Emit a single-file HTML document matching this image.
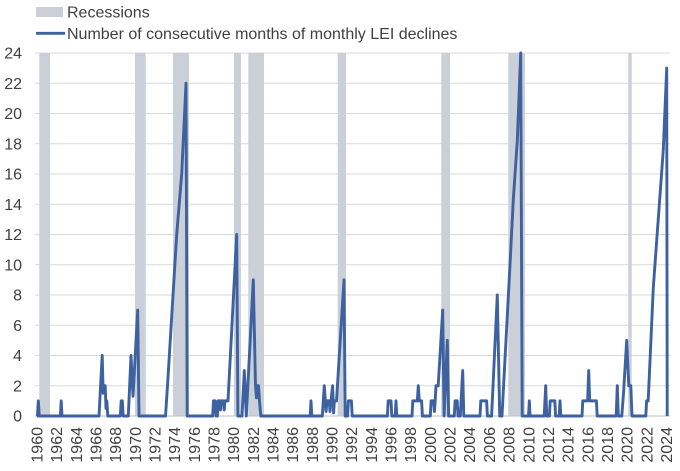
<!DOCTYPE html>
<html><head><meta charset="utf-8"><style>
html,body{margin:0;padding:0;background:#fff;}
svg{display:block;}
text{font-family:"Liberation Sans",sans-serif;font-size:16px;fill:#404040;}
</style></head><body>
<svg width="680" height="471" viewBox="0 0 680 471" xmlns="http://www.w3.org/2000/svg">
<rect x="0" y="0" width="680" height="471" fill="#fff"/>
<!-- legend -->
<rect x="36" y="7" width="27" height="10" fill="#cbd0d8"/>
<text x="67" y="17.5">Recessions</text>
<line x1="36" y1="33.3" x2="65" y2="33.3" stroke="#3e619f" stroke-width="2.8"/>
<text x="67" y="39">Number of consecutive months of monthly LEI declines</text>
<!-- gridlines -->
<g stroke="#d9d9d9" stroke-width="1">
<line x1="35" x2="670" y1="53" y2="53"/>
<line x1="35" x2="670" y1="83.25" y2="83.25"/>
<line x1="35" x2="670" y1="113.5" y2="113.5"/>
<line x1="35" x2="670" y1="143.75" y2="143.75"/>
<line x1="35" x2="670" y1="174" y2="174"/>
<line x1="35" x2="670" y1="204.25" y2="204.25"/>
<line x1="35" x2="670" y1="234.5" y2="234.5"/>
<line x1="35" x2="670" y1="264.75" y2="264.75"/>
<line x1="35" x2="670" y1="295" y2="295"/>
<line x1="35" x2="670" y1="325.25" y2="325.25"/>
<line x1="35" x2="670" y1="355.5" y2="355.5"/>
<line x1="35" x2="670" y1="385.75" y2="385.75"/>
</g>
<!-- recession bars -->
<g fill="#cbd0d8">
<rect x="39.3" y="53" width="10.7" height="363"/>
<rect x="135" y="53" width="10.7" height="363"/>
<rect x="173" y="53" width="16" height="363"/>
<rect x="234" y="53" width="7" height="363"/>
<rect x="248.3" y="53" width="15.7" height="363"/>
<rect x="337.7" y="53" width="8.3" height="363"/>
<rect x="441.3" y="53" width="8.7" height="363"/>
<rect x="508.3" y="53" width="16.7" height="363"/>
<rect x="628.3" y="53" width="3.4" height="363"/>
</g>
<line x1="35" x2="670" y1="416" y2="416" stroke="#bfbfbf" stroke-width="1"/>
<!-- y labels -->
<g text-anchor="end">
<text x="22" y="58.7">24</text>
<text x="22" y="88.95">22</text>
<text x="22" y="119.2">20</text>
<text x="22" y="149.45">18</text>
<text x="22" y="179.7">16</text>
<text x="22" y="209.95">14</text>
<text x="22" y="240.2">12</text>
<text x="22" y="270.45">10</text>
<text x="22" y="300.7">8</text>
<text x="22" y="330.95">6</text>
<text x="22" y="361.2">4</text>
<text x="22" y="391.45">2</text>
<text x="22" y="421.7">0</text>
</g>
<!-- x labels -->
<g text-anchor="end">
<text transform="translate(42.5,427) rotate(-90)">1960</text>
<text transform="translate(62.17,427) rotate(-90)">1962</text>
<text transform="translate(81.84,427) rotate(-90)">1964</text>
<text transform="translate(101.51,427) rotate(-90)">1966</text>
<text transform="translate(121.18,427) rotate(-90)">1968</text>
<text transform="translate(140.85,427) rotate(-90)">1970</text>
<text transform="translate(160.52,427) rotate(-90)">1972</text>
<text transform="translate(180.19,427) rotate(-90)">1974</text>
<text transform="translate(199.86,427) rotate(-90)">1976</text>
<text transform="translate(219.53,427) rotate(-90)">1978</text>
<text transform="translate(239.2,427) rotate(-90)">1980</text>
<text transform="translate(258.87,427) rotate(-90)">1982</text>
<text transform="translate(278.54,427) rotate(-90)">1984</text>
<text transform="translate(298.21,427) rotate(-90)">1986</text>
<text transform="translate(317.88,427) rotate(-90)">1988</text>
<text transform="translate(337.55,427) rotate(-90)">1990</text>
<text transform="translate(357.22,427) rotate(-90)">1992</text>
<text transform="translate(376.89,427) rotate(-90)">1994</text>
<text transform="translate(396.56,427) rotate(-90)">1996</text>
<text transform="translate(416.23,427) rotate(-90)">1998</text>
<text transform="translate(435.9,427) rotate(-90)">2000</text>
<text transform="translate(455.57,427) rotate(-90)">2002</text>
<text transform="translate(475.24,427) rotate(-90)">2004</text>
<text transform="translate(494.91,427) rotate(-90)">2006</text>
<text transform="translate(514.58,427) rotate(-90)">2008</text>
<text transform="translate(534.25,427) rotate(-90)">2010</text>
<text transform="translate(553.92,427) rotate(-90)">2012</text>
<text transform="translate(573.59,427) rotate(-90)">2014</text>
<text transform="translate(593.26,427) rotate(-90)">2016</text>
<text transform="translate(612.93,427) rotate(-90)">2018</text>
<text transform="translate(632.6,427) rotate(-90)">2020</text>
<text transform="translate(652.27,427) rotate(-90)">2022</text>
<text transform="translate(671.94,427) rotate(-90)">2024</text>
</g>
<!-- series -->
<g transform="translate(0,416) scale(1,-15.125)">
<polyline fill="none" stroke="#3e619f" stroke-width="2.9" stroke-linejoin="round" vector-effect="non-scaling-stroke" points="
36.8,0 37.4,0 38.3,1 39.3,0
60.4,0 61.2,1 62,0
99,0 102.2,4 103.2,1.5 103.8,2 105.2,2 106,0.5 106.8,1 107.8,0
120.3,0 121.2,1 122.3,1 123.2,0
128.3,0 131,4 133,1.3 137.7,7 139,0
165.5,0 167.5,2 176.7,12 181.7,16 186,22 187.2,0
212.7,0 213.5,1 215.2,1 216,0
217.4,0 218.2,1 219.8,1 220.5,0.4 221.2,1 223.5,1 224.2,0.4 225,1 228,1 236.7,12 237.9,0
242,0 244.3,3 246.3,0 253.3,9 255.5,2 256.5,1.2 257.3,2 258.5,2 259.5,1 260.8,0
310.2,0 311,1 311.8,0
322.3,0 324.3,2 325.3,1 326.1,0.3 327,1 329.2,1 330,0.3 331,1 332.6,2 333.6,0.2 334.4,1 336.5,1 344,9 345.2,0
347.6,0 348.4,1 351.4,1 352.2,0
387.4,0 388.2,1 391,1 391.8,0
395.2,0 396,1 396.8,0
412,0 412.8,1 417.3,1 418.3,2 419.3,1 421.6,1 422.4,0
430.3,0 431.1,1 433.6,1 434.4,0.3 435.2,1 436,2 438.2,2 442.7,7 444.1,0 447.3,5 448.6,0
454.3,0 455.1,1 457.2,1 458,0 460.3,0 462.7,3 463.8,0
480,0 480.8,1 486.6,1 487.4,0
491.6,0 497.3,8 499.7,0
502,0 510,10 513.3,14.3 517.3,18.2 520.7,24 522.2,0
528.5,0 529.3,1 530.1,0
544.2,0 545.7,2 546.7,0
549.4,0 550.2,1 554.8,1 555.6,0
559.2,0 560,1 560.8,0
582,0 582.8,1 587.6,1 588.7,3 589.7,1 596.4,1 597.2,0
616.2,0 617.3,2 618.3,0
621.8,0 623.5,1.5 626.7,5 628.8,2 630.8,2 632,0
645.8,0 646.6,1 648.2,1 653.3,8.5 663.3,17.6 666.7,23 667.2,0"/>
</g>
</svg>
</body></html>
